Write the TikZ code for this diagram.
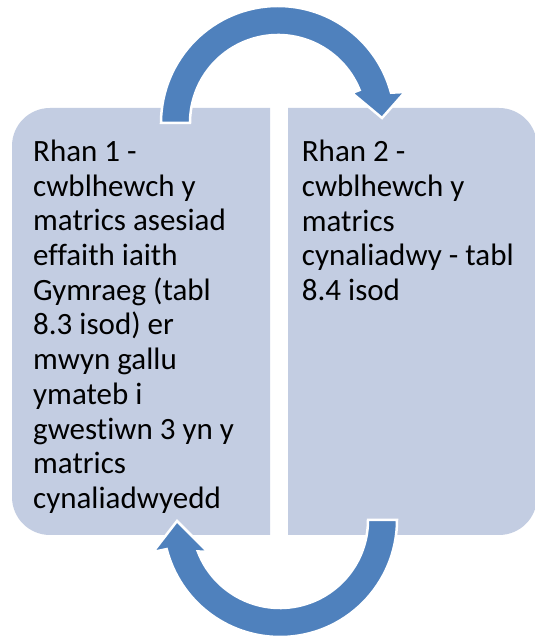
\documentclass[tikz,border=0pt]{standalone}
\usepackage{fontspec}
\setmainfont[Ligatures=NoCommon]{Carlito}
\usetikzlibrary{calc}
\definecolor{boxfill}{RGB}{195,205,226}
\definecolor{arrowblue}{RGB}{79,129,189}
\begin{document}
\begin{tikzpicture}[x=1pt,y=1pt,
  panel/.style={fill=boxfill},
  cyclearrow/.style={fill=arrowblue,draw=white,line width=2.5pt,line join=miter},
  paneltext/.style={anchor=base west,inner sep=0pt,align=left,text=black,
    font=\fontsize{31}{34.7}\selectfont}]
\useasboundingbox (0,0) rectangle (535,638);
\fill[white] (0,0) rectangle (535,638);
% boxes
\fill[panel] (270,103) -- (50,103) arc[start angle=270,end angle=180,radius=38]
  -- (12,492) arc[start angle=180,end angle=90,radius=38] -- (270,530) -- cycle;
\fill[panel] (288,103) -- (499,103) arc[start angle=270,end angle=360,radius=38]
  -- (537,492) arc[start angle=0,end angle=90,radius=38] -- (288,530) -- cycle;
% top arrow
\draw[cyclearrow] (161,515) arc[start angle=180,end angle=15,radius=117]
  -- (405,546) -- (382,520) -- (352,545)
  -- ($(278,515)+(22:88)$) arc[start angle=22,end angle=180,radius=88] -- cycle;
% bottom arrow
\draw[cyclearrow] (397,118) arc[start angle=0,end angle=-165.6,radius=117]
  -- (153,86) -- (177,117) -- (208,86)
  -- ($(280,118)+(-159.1:88)$) arc[start angle=-159.1,end angle=0,radius=88] -- cycle;
% texts (anchored at the baseline of the last line)
\node[paneltext] (t1) at (33,129.6) {Rhan 1 -\\cwblhewch y\\matrics asesiad\\effaith iaith\\Gymraeg (tabl\\8.3 isod) er\\mwyn gallu\\ymateb i\\gwestiwn 3 yn y\\matrics\\cynaliadwyedd};
\node[paneltext] (t2) at (301.7,337.5) {Rhan 2 -\\cwblhewch y\\matrics\\cynaliadwy - tabl\\8.4 isod};
\end{tikzpicture}
\end{document}
